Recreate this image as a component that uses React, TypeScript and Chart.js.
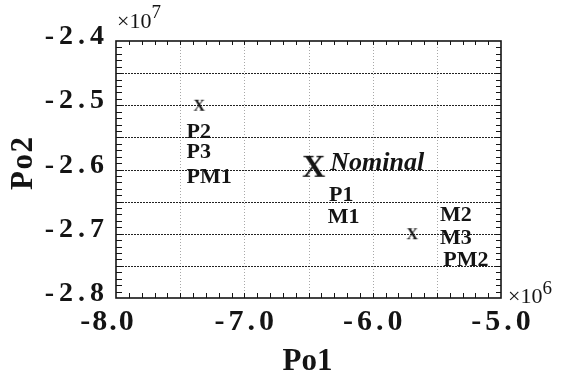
import React, { useEffect, useRef } from 'react';
import { Chart, registerables } from 'chart.js';

Chart.register(...registerables);

// ---- axis ranges and ticks ----
const X_MIN = -8e6;
const X_MAX = -5e6;
const Y_MIN = -2.8e7;
const Y_MAX = -2.4e7;
const xTickValues = [-8e6, -7e6, -6e6, -5e6];
const xTickLabels = ['-8.0', '-7.0', '-6.0', '-5.0'];
const yTickValues = [-2.4e7, -2.5e7, -2.6e7, -2.7e7, -2.8e7];
const yTickLabels = ['-2.4', '-2.5', '-2.6', '-2.7', '-2.8'];
const xGridValues = [-7.5e6, -7e6, -6.5e6, -6e6, -5.5e6];
const yGridValues = [-2.45e7, -2.5e7, -2.55e7, -2.6e7, -2.65e7, -2.7e7, -2.75e7];
const X_MINOR_STEP = 1e5;
const Y_MINOR_STEP = 1e5;

// ---- markers ("X" glyphs) ----
const markerX = [-7.35e6, -6.46e6, -5.69e6];
const markerY = [-2.5e7, -2.595e7, -2.7e7];
const markerSize = ['small', 'large', 'small'];

// ---- text annotations ----
const labelTexts = ['P2', 'P3', 'PM1', 'Nominal', 'P1', 'M1', 'M2', 'M3', 'PM2'];
const labelX = [-7.45e6, -7.45e6, -7.45e6, -6.33e6, -6.34e6, -6.35e6, -5.475e6, -5.475e6, -5.45e6];
const labelY = [-2.542e7, -2.574e7, -2.612e7, -2.591e7, -2.64e7, -2.674e7, -2.672e7, -2.707e7, -2.741e7];

const X_TITLE = 'Po1';
const Y_TITLE = 'Po2';

const SERIF = '"Liberation Serif", "Times New Roman", serif';
const INK = '#141414';

function makeGlyph(size: number): HTMLCanvasElement {
  const c = document.createElement('canvas');
  let ctx = c.getContext('2d')!;
  const font = `bold ${size}px ${SERIF}`;
  ctx.font = font;
  const m = ctx.measureText('X');
  const w = Math.ceil(m.actualBoundingBoxLeft + m.actualBoundingBoxRight) + 2;
  const h = Math.ceil(m.actualBoundingBoxAscent + m.actualBoundingBoxDescent) + 2;
  c.width = w;
  c.height = h;
  ctx = c.getContext('2d')!;
  ctx.font = font;
  ctx.fillStyle = INK;
  ctx.textBaseline = 'alphabetic';
  ctx.textAlign = 'left';
  ctx.fillText('X', 1 + m.actualBoundingBoxLeft, 1 + m.actualBoundingBoxAscent);
  return c;
}

function drawSpaced(ctx: CanvasRenderingContext2D, text: string, x: number, y: number, align: string, spacing: number) {
  const chars = [...text];
  const widths = chars.map((c) => ctx.measureText(c).width);
  const total = widths.reduce((a, b) => a + b, 0) + spacing * (chars.length - 1);
  let start = align === 'right' ? x - total : align === 'center' ? x - total / 2 : x;
  ctx.textAlign = 'left';
  chars.forEach((c, i) => {
    ctx.fillText(c, start, y);
    start += widths[i] + spacing;
  });
}

const decorPlugin = {
  id: 'decor',
  beforeDatasetsDraw(chart: any) {
    const { ctx, chartArea: a, scales } = chart;
    const xs = scales.x;
    const ys = scales.y;
    ctx.save();
    // vertical light dotted grid
    ctx.strokeStyle = '#a8a8a8';
    ctx.lineWidth = 1;
    ctx.setLineDash([1, 2]);
    xGridValues.forEach((v) => {
      const px = Math.round(xs.getPixelForValue(v)) + 0.5;
      ctx.beginPath();
      ctx.moveTo(px, a.top);
      ctx.lineTo(px, a.bottom);
      ctx.stroke();
    });
    // horizontal dark dotted grid
    ctx.strokeStyle = '#222';
    ctx.setLineDash([2, 1]);
    yGridValues.forEach((v) => {
      const py = Math.round(ys.getPixelForValue(v)) + 0.5;
      ctx.beginPath();
      ctx.moveTo(a.left, py);
      ctx.lineTo(a.right, py);
      ctx.stroke();
    });
    ctx.restore();
  },
  afterDraw(chart: any) {
    const { ctx, chartArea: a, scales } = chart;
    const xs = scales.x;
    const ys = scales.y;
    ctx.save();
    ctx.setLineDash([]);
    ctx.strokeStyle = INK;
    // minor ticks
    ctx.lineWidth = 1;
    const nY = Math.round((Y_MAX - Y_MIN) / Y_MINOR_STEP);
    for (let i = 1; i < nY; i++) {
      const py = Math.round(ys.getPixelForValue(Y_MIN + i * Y_MINOR_STEP)) + 0.5;
      ctx.beginPath();
      ctx.moveTo(a.left, py);
      ctx.lineTo(a.left + 6, py);
      ctx.moveTo(a.right, py);
      ctx.lineTo(a.right - 5, py);
      ctx.stroke();
    }
    const nX = Math.round((X_MAX - X_MIN) / X_MINOR_STEP);
    for (let i = 1; i < nX; i++) {
      const px = Math.round(xs.getPixelForValue(X_MIN + i * X_MINOR_STEP)) + 0.5;
      ctx.beginPath();
      ctx.moveTo(px, a.bottom);
      ctx.lineTo(px, a.bottom - 5);
      ctx.moveTo(px, a.top);
      ctx.lineTo(px, a.top + 4);
      ctx.stroke();
    }
    // frame
    ctx.lineWidth = 1.6;
    ctx.strokeRect(a.left, a.top, a.right - a.left, a.bottom - a.top);

    ctx.fillStyle = INK;
    ctx.textBaseline = 'middle';
    // y tick labels
    ctx.font = `bold 28px ${SERIF}`;
    yTickValues.forEach((v, i) => {
      const py = ys.getPixelForValue(v);
      drawSpaced(ctx, yTickLabels[i], a.left - 12, py - 4, 'right', 5);
    });
    // x tick labels (the first one sits a little left of its tick, as in the source)
    ctx.font = `bold 30px ${SERIF}`;
    xTickValues.forEach((v, i) => {
      const px = xs.getPixelForValue(v);
      drawSpaced(ctx, xTickLabels[i], px + (i === 0 ? -9 : 0), a.bottom + 24, 'center', i === 0 ? 2 : 4);
    });
    // axis titles
    ctx.textBaseline = 'alphabetic';
    ctx.font = `bold 31px ${SERIF}`;
    ctx.textAlign = 'center';
    ctx.fillText(X_TITLE, (a.left + a.right) / 2 - 1, 370);
    ctx.save();
    ctx.translate(32, (a.top + a.bottom) / 2 - 6);
    ctx.rotate(-Math.PI / 2);
    drawSpaced(ctx, Y_TITLE, 0, 0, 'center', 1.5);
    ctx.restore();

    // multipliers
    ctx.textAlign = 'left';
    ctx.font = `22px ${SERIF}`;
    ctx.fillText('×10', a.left + 1, 28);
    let w = ctx.measureText('×10').width;
    ctx.font = `19px ${SERIF}`;
    ctx.fillText('7', a.left + 1 + w, 18);
    ctx.font = `22px ${SERIF}`;
    ctx.fillText('×10', a.right + 7, 303);
    w = ctx.measureText('×10').width;
    ctx.font = `19px ${SERIF}`;
    ctx.fillText('6', a.right + 7 + w, 294);

    // annotations
    ctx.textBaseline = 'middle';
    labelTexts.forEach((t, i) => {
      ctx.font = t === 'Nominal' ? `italic bold 26px ${SERIF}` : `bold 22px ${SERIF}`;
      ctx.textAlign = 'left';
      ctx.fillText(t, xs.getPixelForValue(labelX[i]), ys.getPixelForValue(labelY[i]));
    });
    ctx.restore();
  },
};

export default function App() {
  const ref = useRef<HTMLCanvasElement | null>(null);
  useEffect(() => {
    if (!ref.current) return;
    const small = makeGlyph(16);
    const large = makeGlyph(32);
    const chart = new Chart(ref.current, {
      type: 'scatter',
      data: {
        datasets: [
          {
            data: markerX.map((x, i) => ({ x, y: markerY[i] })),
            pointStyle: markerSize.map((s) => (s === 'large' ? large : small)) as any,
            pointRadius: 5,
            showLine: false,
          },
        ],
      },
      options: {
        responsive: false,
        animation: false,
        events: [],
        layout: { padding: { left: 116, top: 41, right: 62, bottom: 78 } },
        plugins: { legend: { display: false }, tooltip: { enabled: false } },
        scales: {
          x: { type: 'linear', min: X_MIN, max: X_MAX, display: false },
          y: { type: 'linear', min: Y_MIN, max: Y_MAX, display: false },
        },
      },
      plugins: [decorPlugin],
    });
    return () => chart.destroy();
  }, []);
  return (
    <div style={{ position: 'absolute', left: 0, top: 0, width: 563, height: 376, background: '#fff' }}>
      <canvas ref={ref} width={563} height={376} style={{ display: 'block', width: 563, height: 376 }} />
    </div>
  );
}
